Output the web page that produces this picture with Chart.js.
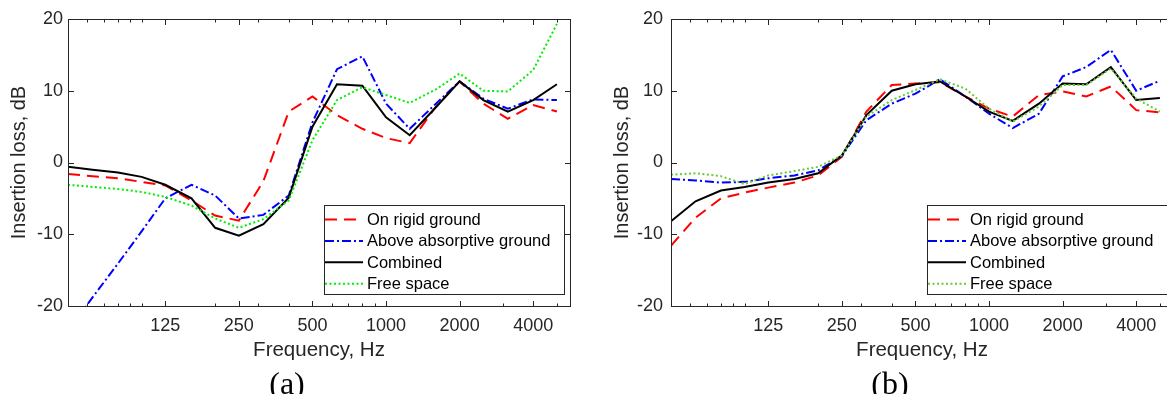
<!DOCTYPE html>
<html>
<head>
<meta charset="utf-8">
<script src="https://cdn.jsdelivr.net/npm/chart.js@4.4.1/dist/chart.umd.min.js"></script>
<style>
  html, body { margin: 0; padding: 0; background: #fff; overflow: hidden; }
  body { width: 1167px; height: 394px; position: relative; }
  canvas { position: absolute; top: 0; }
  #chartA { left: 0; }
  #chartB { left: 603px; }
  .tag { position: absolute; width: 100px; text-align: center; top: 367px;
         font-family: "Liberation Serif", "Times New Roman", serif; font-size: 32px; line-height: 32px; color: #000; }
  #tagA { left: 237px; }
  #tagB { left: 840px; }
</style>
</head>
<body>
<canvas id="chartA" width="583" height="394"></canvas>
<canvas id="chartB" width="583" height="394"></canvas>
<div class="tag" id="tagA">(a)</div>
<div class="tag" id="tagB">(b)</div>
<script>
// one-third octave band centre frequencies (Hz)
const freqs = [50, 63, 80, 100, 125, 160, 200, 250, 315, 400, 500, 630, 800, 1000, 1250, 1600, 2000, 2500, 3150, 4000, 5000];
const seriesLabels = ['On rigid ground', 'Above absorptive ground', 'Combined', 'Free space'];

// panel (a), insertion loss in dB
const rigidA    = [-1.6, -1.9, -2.2, -2.7, -3.2, -5.3, -7.4, -8.1, -2.6, 7.1, 9.2, 6.6, 4.7, 3.4, 2.7, 7.8, 11.3, 8.2, 6.1, 8.0, 7.1];
const absorbA   = [-23.5, -18.8, -14.1, -9.6, -5.0, -3.1, -4.6, -7.8, -7.3, -4.6, 5.6, 13.0, 14.8, 8.2, 4.7, 8.2, 11.3, 8.9, 7.5, 8.8, 8.7];
const combinedA = [-0.6, -1.0, -1.4, -2.0, -3.1, -5.0, -9.1, -10.2, -8.6, -4.9, 5.0, 10.9, 10.7, 6.3, 3.8, 7.7, 11.3, 8.7, 7.1, 8.7, 10.9];
const freeA     = [-3.1, -3.4, -3.7, -4.1, -4.8, -6.0, -7.8, -9.1, -7.9, -5.3, 3.1, 8.7, 10.5, 9.4, 8.3, 10.2, 12.4, 10.0, 9.9, 12.9, 19.3];

// panel (b)
const rigidB    = [-11.6, -7.7, -5.0, -4.2, -3.5, -2.8, -1.8, 0.8, 7.1, 10.8, 11.0, 11.2, 9.2, 7.5, 6.4, 9.4, 9.9, 9.2, 10.6, 7.3, 7.0];
const absorbB   = [-2.3, -2.5, -2.8, -2.7, -2.2, -1.8, -1.1, 0.9, 5.9, 8.2, 9.6, 11.6, 9.2, 6.8, 4.8, 6.8, 12.0, 13.3, 15.7, 10.0, 11.4];
const combinedB = [-8.2, -5.4, -3.9, -3.4, -2.8, -2.3, -1.5, 1.0, 6.6, 10.0, 10.9, 11.3, 9.2, 7.1, 5.8, 8.2, 11.0, 10.9, 13.3, 8.7, 9.0];
const freeB     = [-1.7, -1.5, -1.9, -3.0, -1.8, -1.2, -0.6, 1.0, 6.4, 8.7, 10.1, 11.6, 10.3, 7.5, 5.7, 7.8, 10.8, 10.8, 13.1, 8.9, 7.1];

// axes
const xTickValues = [125, 250, 500, 1000, 2000, 4000];
const xTickLabels = ['125', '250', '500', '1000', '2000', '4000'];
const xMinorTicks = [60, 70, 80, 90, 100, 200, 300, 400, 600, 700, 800, 900, 3000, 5000];
const yTickValues = [-20, -10, 0, 10, 20];

const axisColor = '#262626';
const fontFamily = '"Liberation Sans", Arial, Helvetica, sans-serif';

// box round the plot with inward ticks on all four sides (MATLAB look)
const frameTicks = {
  id: 'frameTicks',
  afterDatasetsDraw(chart) {
    const {ctx, chartArea: a, scales: {x, y}} = chart;
    const L = Math.round(a.left) + 0.5, R = Math.round(a.right) + 0.5;
    const T = Math.round(a.top) + 0.5, B = Math.round(a.bottom) + 0.5;
    ctx.save();
    ctx.strokeStyle = axisColor;
    ctx.lineWidth = 1;
    ctx.setLineDash([]);
    ctx.beginPath();
    const xTick = (v, len) => {
      const px = Math.round(x.getPixelForValue(v)) + 0.5;
      ctx.moveTo(px, B); ctx.lineTo(px, B - len);
      ctx.moveTo(px, T); ctx.lineTo(px, T + len);
    };
    xTickValues.forEach(v => xTick(v, 5.5));
    xMinorTicks.forEach(v => xTick(v, 3));
    yTickValues.forEach(v => {
      const py = Math.round(y.getPixelForValue(v)) + 0.5;
      ctx.moveTo(L, py); ctx.lineTo(L + 5.5, py);
      ctx.moveTo(R, py); ctx.lineTo(R - 5.5, py);
    });
    ctx.stroke();
    ctx.strokeRect(L, T, R - L, B - T);
    ctx.restore();
  }
};

// boxed legend in the lower right corner of the plot
const boxLegend = {
  id: 'boxLegend',
  afterDraw(chart) {
    const {ctx, chartArea: a} = chart;
    const w = 240, h = 89;
    const right = Math.round(a.right) - 6, bottom = Math.round(a.bottom) - 12;
    const left = right - w, top = bottom - h;
    ctx.save();
    ctx.fillStyle = '#fff';
    ctx.fillRect(left, top, w, h);
    ctx.strokeStyle = axisColor;
    ctx.lineWidth = 1;
    ctx.strokeRect(left + 0.5, top + 0.5, w, h);
    ctx.font = '16.5px ' + fontFamily;
    ctx.textBaseline = 'middle';
    chart.data.datasets.forEach((ds, i) => {
      const yy = top + 14.5 + i * 21.4;
      ctx.strokeStyle = ds.borderColor;
      ctx.lineWidth = ds.borderWidth;
      ctx.setLineDash(ds.borderDash || []);
      ctx.beginPath();
      ctx.moveTo(left + 1, yy);
      ctx.lineTo(left + 39, yy);
      ctx.stroke();
      ctx.setLineDash([]);
      ctx.fillStyle = '#000';
      ctx.fillText(ds.label, left + 43, yy + 1);
    });
    ctx.restore();
  }
};

function points(values) {
  return values.map((v, i) => ({x: freqs[i], y: v}));
}

function makeChart(id, series, greenColor, yLabelPad) {
  const styles = [
    {color: '#ff0000', dash: [12, 7], order: 4},
    {color: '#0000ff', dash: [9, 3, 2, 3], order: 3},
    {color: '#000000', dash: [], order: 2},
    {color: greenColor, dash: [2, 2.5], order: 1}
  ];
  const datasets = series.map((vals, i) => ({
    label: seriesLabels[i],
    data: points(vals),
    borderColor: styles[i].color,
    backgroundColor: styles[i].color,
    borderDash: styles[i].dash,
    borderWidth: 2,
    pointRadius: 0,
    tension: 0,
    fill: false,
    order: styles[i].order
  }));

  return new Chart(document.getElementById(id), {
    type: 'line',
    data: {datasets: datasets},
    options: {
      responsive: false,
      animation: false,
      devicePixelRatio: 1,
      layout: {padding: {left: 0, right: 13, top: 19, bottom: 0}},
      plugins: {legend: {display: false}, tooltip: {enabled: false}},
      scales: {
        x: {
          type: 'logarithmic',
          min: 50,
          max: 5657,
          bounds: 'data',
          grid: {display: false, drawTicks: false},
          border: {display: false},
          afterBuildTicks: s => { s.ticks = xTickValues.map(v => ({value: v})); },
          afterFit: s => { s.height = 88; },
          ticks: {
            autoSkip: false,
            maxRotation: 0,
            padding: 9,
            color: axisColor,
            font: {family: fontFamily, size: 18},
            callback: (v, i) => xTickLabels[i]
          },
          title: {
            display: true,
            text: 'Frequency, Hz',
            color: axisColor,
            font: {family: fontFamily, size: 20.5},
            padding: {top: 0, bottom: 31.5}
          }
        },
        y: {
          type: 'linear',
          min: -20,
          max: 20,
          grid: {display: false, drawTicks: false},
          border: {display: false},
          afterBuildTicks: s => { s.ticks = yTickValues.map(v => ({value: v})); },
          afterFit: s => { s.width = 68; },
          ticks: {
            padding: yLabelPad,
            color: axisColor,
            font: {family: fontFamily, size: 18},
            callback: v => String(v)
          },
          title: {
            display: true,
            text: 'Insertion loss, dB',
            color: axisColor,
            font: {family: fontFamily, size: 20},
            padding: {top: 7.5, bottom: 0}
          }
        }
      }
    },
    plugins: [frameTicks, boxLegend]
  });
}

makeChart('chartA', [rigidA, absorbA, combinedA, freeA], '#00ee00', 5);
makeChart('chartB', [rigidB, absorbB, combinedB, freeB], '#66cc33', 8);
</script>
</body>
</html>
